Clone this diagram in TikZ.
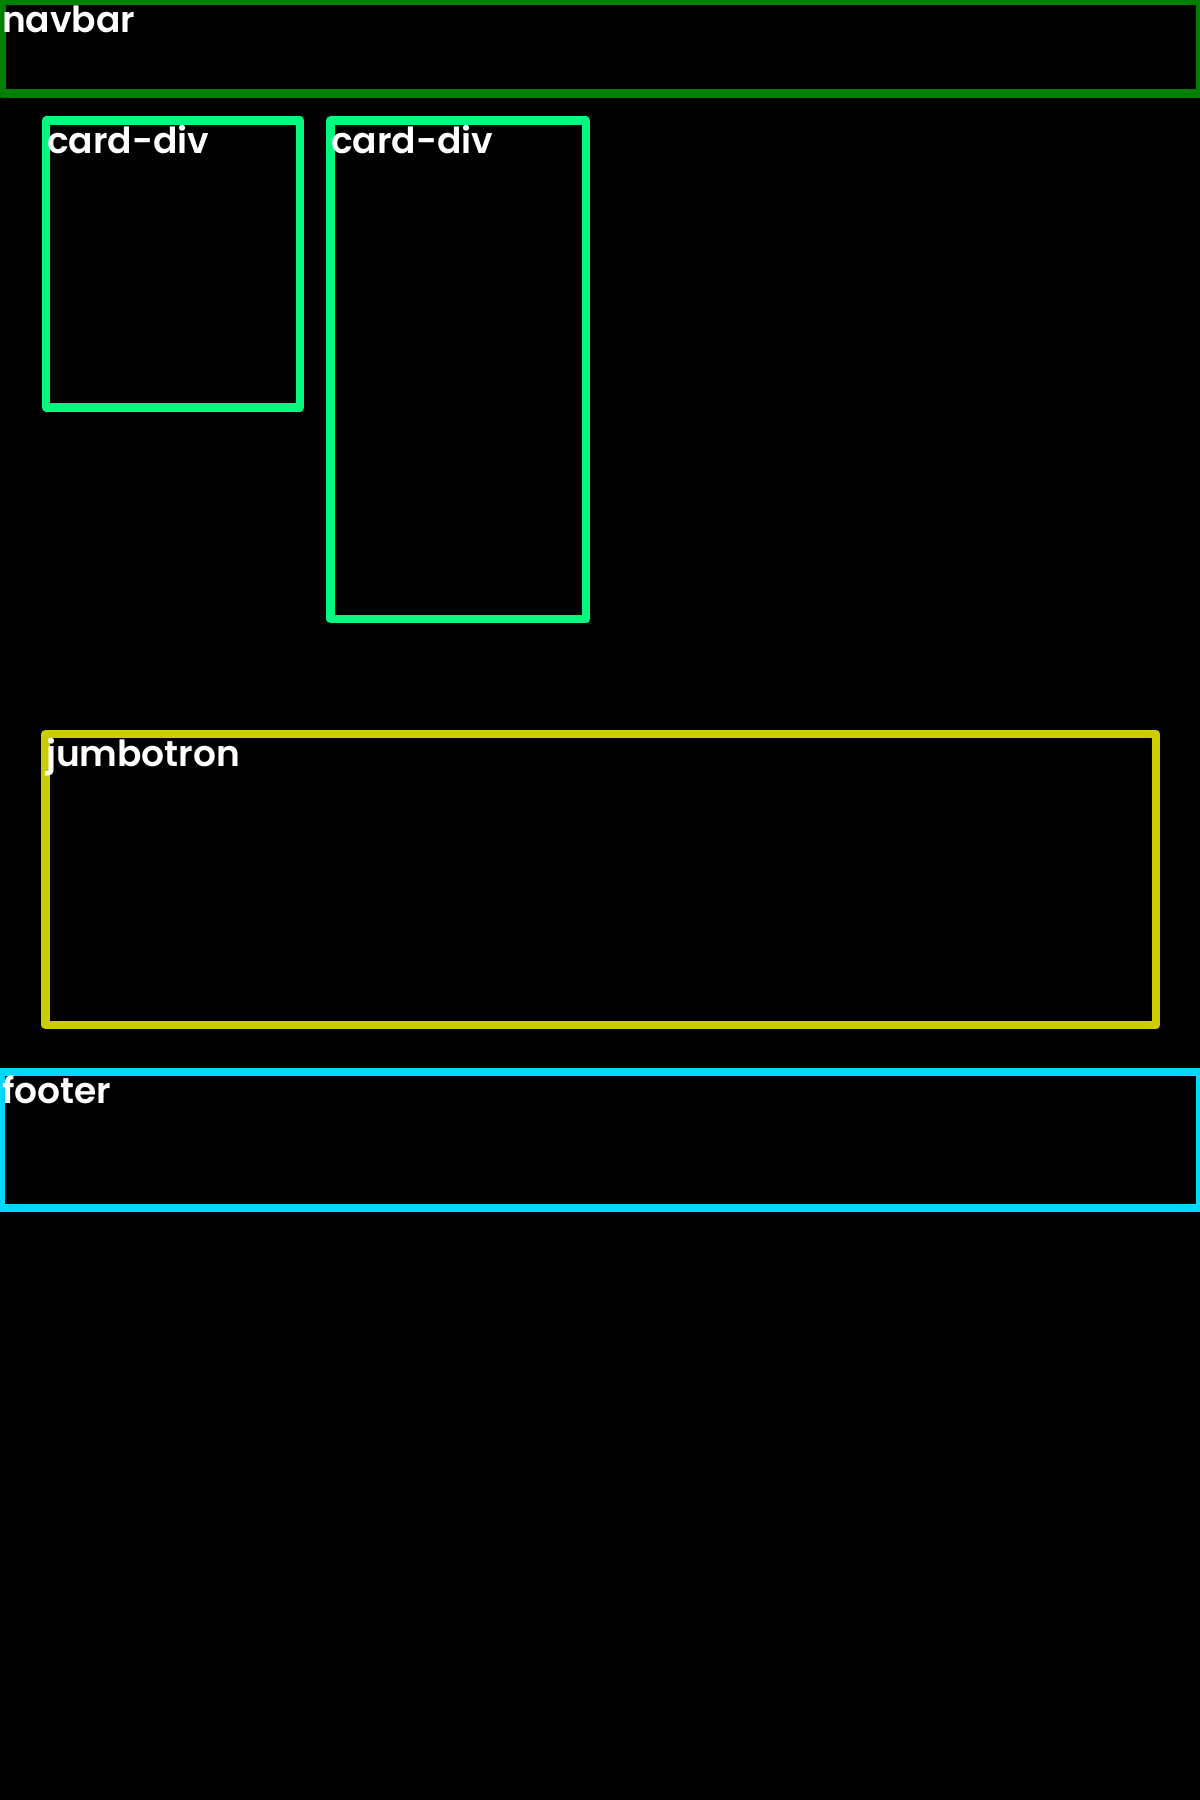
\documentclass[tikz,border=0pt]{standalone}
\usepackage{fontspec}
\setmainfont{Poppins}[UprightFont=* SemiBold]
\begin{document}
\begin{tikzpicture}[x=1pt,y=-1pt,
  box/.style={draw=#1, line width=8.5pt, line join=round, inner sep=0pt, outer sep=0pt, anchor=north west},
  lbl/.style={text=white, inner sep=0pt, outer sep=0pt, anchor=base west, font=\fontsize{36}{36}\selectfont}]
  \definecolor{navc}{RGB}{0,128,0}
  \definecolor{cardc}{RGB}{0,250,128}
  \definecolor{jumboc}{RGB}{204,204,0}
  \definecolor{footc}{RGB}{0,216,255}
  \fill[black] (0,0) rectangle (1200,1800);
  \useasboundingbox (0,0) rectangle (1200,1800);
  \node[box=navc, minimum width=1198pt, minimum height=93pt] (navbar) at (2,0.5) {};
  \node[box=cardc, minimum width=254pt, minimum height=287pt] (card1) at (46,120.5) {};
  \node[box=cardc, minimum width=255.5pt, minimum height=498.5pt] (card2) at (330.5,120.5) {};
  \node[box=jumboc, minimum width=1110.5pt, minimum height=291pt] (jumbo) at (45.5,734) {};
  \node[box=footc, minimum width=1199pt, minimum height=136pt] (footer) at (1,1072) {};
  \node[lbl] (navbarlbl) at (2,32) {navbar};
  \node[lbl] (card1lbl) at (47,153) {card-div};
  \node[lbl] (card2lbl) at (331,153) {card-div};
  \node[lbl] (jumbolbl) at (46,766) {jumbotron};
  \node[lbl] (footerlbl) at (2,1103) {footer};
\end{tikzpicture}
\end{document}
